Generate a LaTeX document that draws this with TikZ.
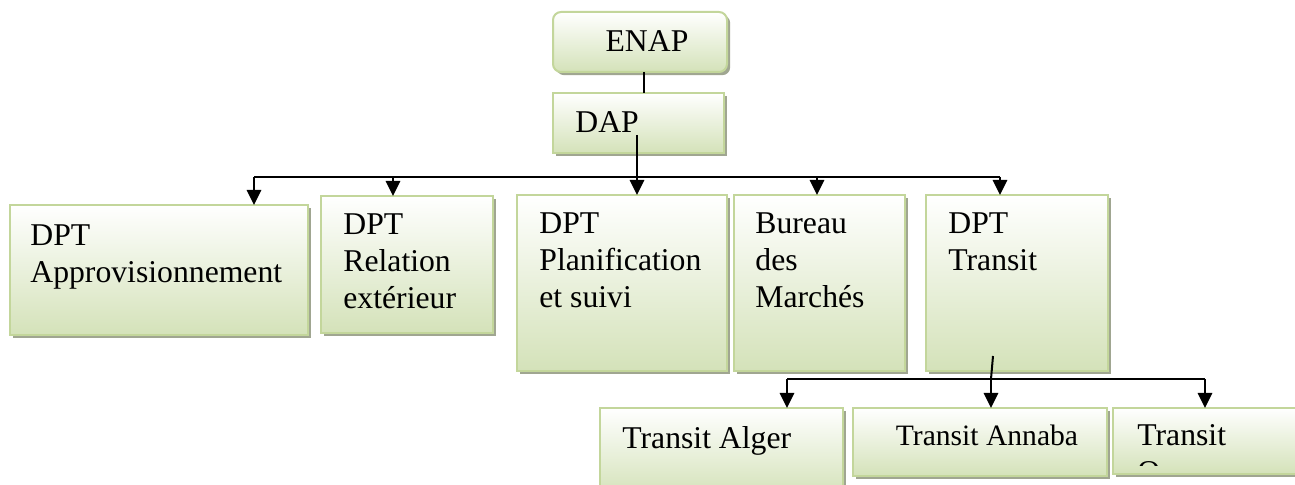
\documentclass[tikz,border=0pt]{standalone}
\usepackage{fontspec}
\setmainfont{Liberation Serif}
\usetikzlibrary{arrows.meta,shadows}
\definecolor{boxborder}{RGB}{195,214,155}
\definecolor{boxfill}{RGB}{212,226,185}
\definecolor{shadowc}{RGB}{160,166,145}
\tikzset{
  box/.style={draw=boxborder, line width=1pt, top color=white, bottom color=boxfill,
    inner sep=0pt, outer sep=0pt, anchor=north west,
    general shadow={shadow xshift=1.6pt, shadow yshift=-1.6pt, fill=shadowc, opacity=1}},
  rbox/.style={box, rounded corners=4pt},
  txt/.style={anchor=base west, inner sep=0pt, font=\fontsize{15.85}{18}\selectfont},
  ctxt/.style={txt, anchor=base},
  conn/.style={line width=1pt, black},
  arr/.style={conn, -{Triangle[width=7.2pt,length=7.5pt]}}
}
\begin{document}
\begin{tikzpicture}[x=0.5pt,y=-0.5pt]
\path[use as bounding box, clip] (0,0) rectangle (1295,485);
\fill[white] (0,0) rectangle (1295,485);
% top
\node[rbox, minimum width=87pt, minimum height=30pt] (enap) at (553,12) {};
\node[box, minimum width=85.5pt, minimum height=30pt] (dap) at (553,93) {};
% second row
\node[box, minimum width=149pt, minimum height=65pt] (b1) at (10,205) {};
\node[box, minimum width=86pt, minimum height=68.5pt] (b2) at (321,196) {};
\node[box, minimum width=105pt, minimum height=88pt] (b3) at (517,195) {};
\node[box, minimum width=85.5pt, minimum height=88pt] (b4) at (734,195) {};
\node[box, minimum width=91pt, minimum height=88pt] (b5) at (926,195) {};
% third row
\node[box, minimum width=121.5pt, minimum height=44pt] (b6) at (600,408) {};
\node[box, minimum width=127pt, minimum height=34pt] (b7) at (853,408) {};
\node[box, minimum width=103.5pt, minimum height=33pt] (b8) at (1113,408) {};
% texts
\node[ctxt] (tenap) at (647,52) {ENAP};
\node[txt] (tdap) at (575,133) {DAP};
\node[txt] (t1a) at (30,246) {DPT};
\node[txt] (t1b) at (30,283) {Approvisionnement};
\node[txt] (t2a) at (343,235) {DPT};
\node[txt] (t2b) at (343,272) {Relation};
\node[txt] (t2c) at (343,309) {extérieur};
\node[txt] (t3a) at (539,234) {DPT};
\node[txt] (t3b) at (539,271) {Planification};
\node[txt] (t3c) at (539,308) {et suivi};
\node[txt] (t4a) at (755,234) {Bureau};
\node[txt] (t4b) at (755,271) {des};
\node[txt] (t4c) at (755,308) {Marchés};
\node[txt] (t5a) at (948,234) {DPT};
\node[txt] (t5b) at (948,271) {Transit};
\node[txt] (t6) at (622,449) {Transit Alger};
\node[ctxt, font=\fontsize{14.8}{17}\selectfont] (t7) at (987,446) {Transit Annaba};
\node[txt] (t8a) at (1137,446) {Transit};
\begin{scope}
  \clip (1113,408) rectangle (1295,466);
  \node[txt] (t8b) at (1137,483) {O};
\end{scope}
% connectors
\draw[conn] (enap.south -| 644,0) -- (dap.north -| 644,0);
\coordinate (dapout) at (637,135);
\draw[arr] (dapout) -- (dapout |- b3.north);
\coordinate (p1) at (254,177);
\coordinate (p2) at (393,177);
\coordinate (p4) at (817,177);
\coordinate (p5) at (1000,177);
\draw[conn] (p1) -- (p5);
\draw[arr] (p1) -- (p1 |- b1.north);
\draw[arr] (p2) -- (p2 |- b2.north);
\draw[arr] (p4) -- (p4 |- b4.north);
\draw[arr] (p5) -- (p5 |- b5.north);
\coordinate (trout) at (993,356);
\coordinate (q2) at (991,379);
\coordinate (q1) at (787,379);
\coordinate (q3) at (1205,379);
\draw[conn] (trout) -- (q2);
\draw[conn] (q1) -- (q3);
\draw[arr] (q1) -- (q1 |- b6.north);
\draw[arr] (q2) -- (q2 |- b7.north);
\draw[arr] (q3) -- (q3 |- b8.north);
\end{tikzpicture}
\end{document}
